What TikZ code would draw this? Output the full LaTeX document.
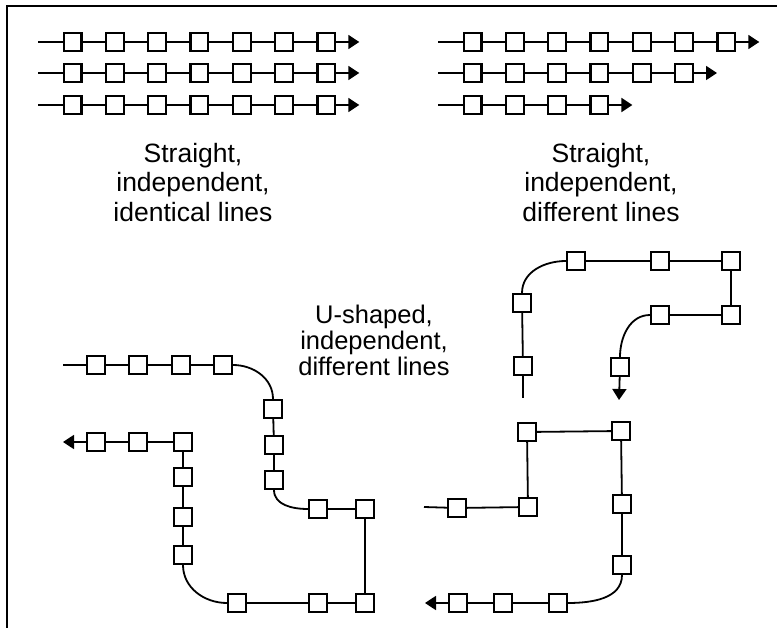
\documentclass[tikz,border=0pt]{standalone}
\usepackage{fontspec}
\setmainfont{Liberation Sans}
\usetikzlibrary{arrows.meta}

\tikzset{
  stn/.style={draw, line width=2.2pt, fill=white, minimum size=17.8pt, inner sep=0pt},
  trk/.style={line width=1.8pt},
  arr/.style={trk, -{Triangle[length=11pt,width=14pt]}},
  lbl/.style={align=center, inner sep=0pt, font=\fontsize{26.5}{29.5}\selectfont}
}

\begin{document}
\begin{tikzpicture}[x=1pt,y=1pt]
				\useasboundingbox (0,-628) rectangle (777,0);
				%Frame
				\draw[line width=2.2pt] (7,-628) -- (7,-6) -- (777,-6);

				%Straight lines
				\foreach \row/\yy/\xs/\cnt in {a/42/38/7, b/73/38/7, c/105/38/7, d/42/438/7, e/73/438/6, f/105/438/4} {
					\coordinate (\row-0) at (\xs,-\yy);
					\foreach \i in {1,...,\cnt}
						\node[stn] (\row-\i) at ({\xs+34.5+42.3*(\i-1)},-\yy) {};
					\coordinate (\row-end) at ({\xs+34.5+42.3*(\cnt-1)+33},-\yy);
					\pgfmathtruncatemacro\last{\cnt-1}
					\draw[trk] (\row-0) -- (\row-1);
					\foreach \i [evaluate=\i as \j using int(\i+1)] in {1,...,\last}
						\draw[trk] (\row-\i) -- (\row-\j);
					\draw[arr] (\row-\cnt) -- (\row-end);
				}

				%Labels
				\node[lbl] (idl) at (193,-182.5) {Straight,\\independent,\\identical lines};
				\node[lbl] (dfl) at (601,-182.5) {Straight,\\independent,\\different lines};
				\node[lbl, font=\fontsize{25.5}{26}\selectfont] (ush) at (374,-340) {U-shaped,\\independent,\\different lines};

				%U-shaped line, left
				\coordinate (u-0) at (63,-365);
				\coordinate (u-end) at (63,-442);
				\foreach \n/\x/\y in {1/96/365, 2/138/365, 3/181/365, 4/223/365, 5/273/409, 6/274/445, 7/274/480,
					8/318/509, 9/365/509, 10/365/603, 11/318/603, 12/237/603,
					13/183/555, 14/183/517, 15/183/477, 16/183/442, 17/138/442, 18/96/442}
					\node[stn] (u-\n) at (\x,-\y) {};
				\draw[arr] (u-0) -- (u-1) -- (u-2) -- (u-3) -- (u-4) to[out=0,in=90] (u-5) -- (u-6) -- (u-7)
					to[out=-90,in=180] (u-8) -- (u-9) -- (u-10) -- (u-11) -- (u-12) to[out=180,in=-90] (u-13)
					-- (u-14) -- (u-15) -- (u-16) -- (u-17) -- (u-18) -- (u-end);

				%U-shaped lines, right
				\coordinate (v-0) at (523,-398);
				\coordinate (v-end) at (619,-400);
				\foreach \n/\x/\y in {1/523/366, 2/522/303, 3/576/261, 4/660/261, 5/731/261, 6/731/315, 7/660/315, 8/620/367}
					\node[stn] (v-\n) at (\x,-\y) {};
				\draw[arr] (v-0) -- (v-1) -- (v-2) to[out=90,in=180] (v-3) -- (v-4) -- (v-5) -- (v-6) -- (v-7)
					to[out=180,in=90] (v-8) -- (v-end);

				\coordinate (w-0) at (424,-507);
				\coordinate (w-end) at (425,-603);
				\foreach \n/\x/\y in {1/457/508, 2/528/507, 3/527/432, 4/621/431, 5/622/504, 6/622/565, 7/558/603, 8/503/603, 9/458/603}
					\node[stn] (w-\n) at (\x,-\y) {};
				\draw[arr] (w-0) -- (w-1) -- (w-2) -- (w-3) -- (w-4) -- (w-5) -- (w-6) to[out=-90,in=0] (w-7)
					-- (w-8) -- (w-9) -- (w-end);
\end{tikzpicture}
\end{document}
